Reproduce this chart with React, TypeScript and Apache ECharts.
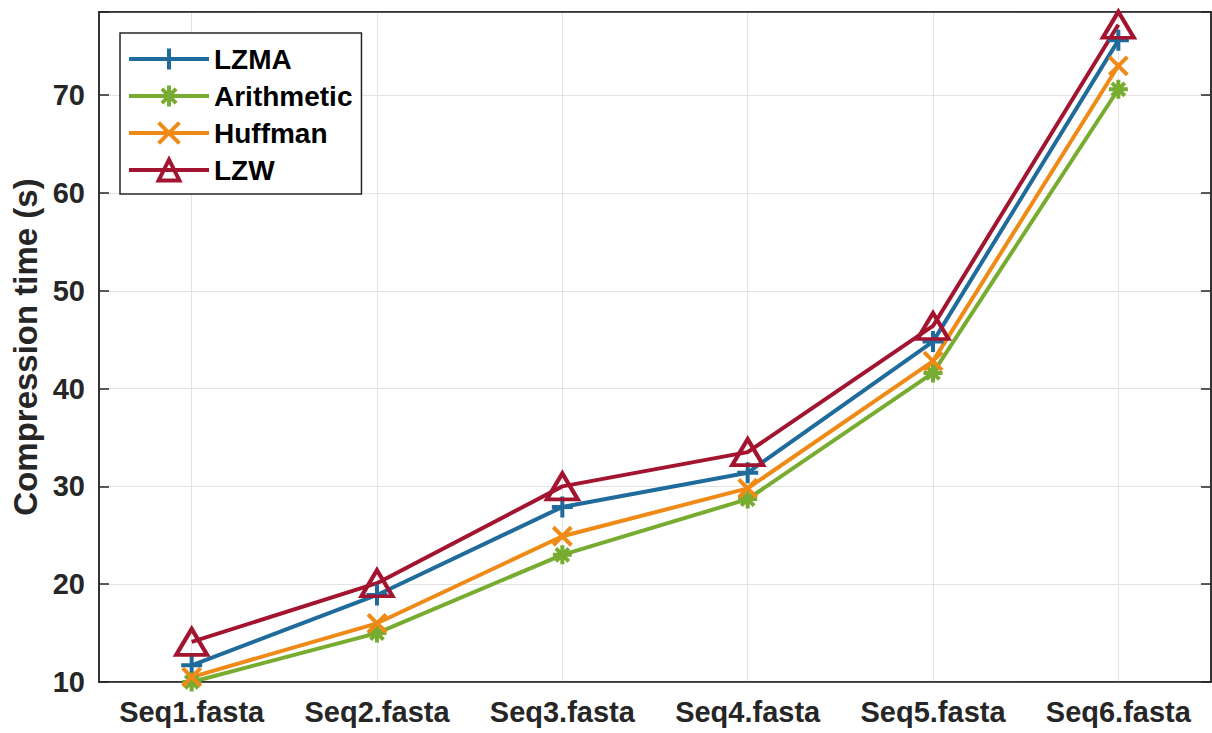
import React, { useEffect, useRef } from "react";
import * as echarts from "echarts";

const categories = ["Seq1.fasta", "Seq2.fasta", "Seq3.fasta", "Seq4.fasta", "Seq5.fasta", "Seq6.fasta"];
const lzma = [11.7, 18.9, 27.9, 31.4, 44.8, 75.6];
const arithmetic = [10.0, 15.0, 23.0, 28.7, 41.6, 70.6];
const huffman = [10.5, 16.0, 24.9, 29.8, 42.8, 73.0];
const lzw = [14.1, 20.1, 30.0, 33.5, 46.4, 77.2];
const yTicks = [10, 20, 30, 40, 50, 60, 70];

const FONT = "'Liberation Sans', Arial, Helvetica, sans-serif";
const AX = "#262626";

const PLUS = "path://M0,5L10,5M5,0L5,10";
const CROSS = "path://M0,0L10,10M10,0L0,10";
const STAR = "path://M0,5L10,5M5,0L5,10M1.6,1.6L8.4,8.4M8.4,1.6L1.6,8.4";

function mk(name: string, data: number[], color: string, symbol: string, size: number | number[]) {
  return {
    name,
    type: "line",
    data,
    symbol,
    symbolSize: size,
    color,
    lineStyle: { color, width: 4 },
    itemStyle: { color: "rgba(0,0,0,0)", borderColor: color, borderWidth: 4 },
    emphasis: { disabled: true },
  };
}

export default function App() {
  const ref = useRef<HTMLDivElement>(null);
  useEffect(() => {
    if (!ref.current) return;
    const chart = echarts.init(ref.current, undefined, { renderer: "svg" });
    const labelText = { fontFamily: FONT, fontWeight: "bold", fontSize: 29, color: AX };
    chart.setOption({
      animation: false,
      backgroundColor: "#fff",
      grid: { left: 99, right: 1, top: 12, bottom: 51, show: true, borderColor: AX, borderWidth: 1.5 },
      legend: {
        left: 120,
        top: 33,
        orient: "vertical",
        itemWidth: 80,
        itemHeight: 26,
        itemGap: 9,
        padding: [12, 9, 10, 7],
        borderColor: AX,
        borderWidth: 1.5,
        backgroundColor: "#fff",
        lineStyle: { width: 4 },
        itemStyle: { borderWidth: 4 },
        textStyle: { fontFamily: FONT, fontWeight: "bold", fontSize: 28, color: "#000" },
        data: ["LZMA", "Arithmetic", "Huffman", "LZW"],
      },
      xAxis: [
        {
          type: "category",
          data: categories,
          boundaryGap: true,
          axisLine: { lineStyle: { color: AX, width: 1.5 } },
          axisTick: { inside: true, interval: 0, alignWithLabel: true, length: 10, lineStyle: { color: AX, width: 1.5 } },
          axisLabel: { ...labelText, interval: 0, hideOverlap: false, margin: 15 },
          splitLine: { show: true, interval: 0, alignWithLabel: true, lineStyle: { color: "#e3e3e3", width: 1 } },
        },
        {
          type: "category",
          data: categories,
          position: "top",
          boundaryGap: true,
          axisLine: { lineStyle: { color: AX, width: 1.5 } },
          axisTick: { inside: true, interval: 0, alignWithLabel: true, length: 10, lineStyle: { color: AX, width: 1.5 } },
          axisLabel: { show: false, interval: 0 },
          splitLine: { show: false },
        },
      ],
      yAxis: [
        {
          type: "value",
          min: 10,
          max: 78.5,
          interval: 10,
          name: "Compression time (s)",
          nameLocation: "middle",
          nameGap: 55,
          nameTextStyle: { fontFamily: FONT, fontWeight: "bold", fontSize: 33, color: AX },
          axisLine: { show: true, lineStyle: { color: AX, width: 1.5 } },
          axisTick: { show: true, inside: true, length: 10, lineStyle: { color: AX, width: 1.5 } },
          axisLabel: {
            ...labelText,
            margin: 14,
            formatter: (v: number) => (yTicks.indexOf(v) >= 0 ? String(v) : ""),
          },
          splitLine: { show: true, lineStyle: { color: "#e3e3e3", width: 1 } },
        },
        {
          type: "value",
          min: 10,
          max: 78.5,
          interval: 10,
          position: "right",
          axisLine: { show: true, lineStyle: { color: AX, width: 1.5 } },
          axisTick: { show: true, inside: true, length: 10, lineStyle: { color: AX, width: 1.5 } },
          axisLabel: { show: false },
          splitLine: { show: false },
        },
      ],
      series: [
        mk("LZMA", lzma, "#1f6b9c", PLUS, 21),
        mk("Arithmetic", arithmetic, "#77ac30", STAR, 19),
        mk("Huffman", huffman, "#ef8a17", CROSS, 18),
        mk("LZW", lzw, "#a2142f", "triangle", [31, 26]),
      ],
    });
    return () => chart.dispose();
  }, []);
  return <div ref={ref} style={{ width: 1212, height: 733, position: "absolute", left: 0, top: 0 }} />;
}
